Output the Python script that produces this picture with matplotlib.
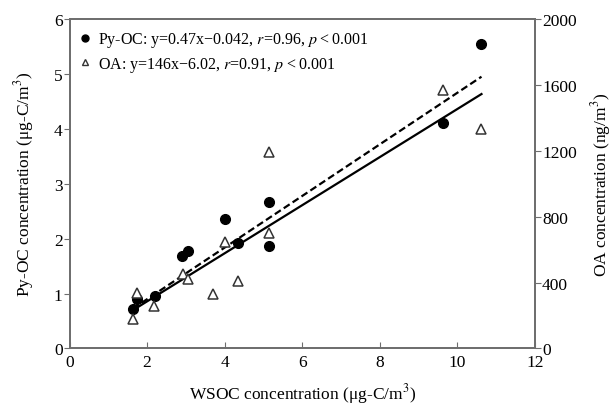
import numpy as np
import matplotlib
matplotlib.use("Agg")
import matplotlib.pyplot as plt
from matplotlib.lines import Line2D

plt.rcParams['font.family'] = ['Liberation Serif', 'DejaVu Serif']
plt.rcParams['mathtext.fontset'] = 'stix'

# WSOC (ug-C/m3) vs Py-OC (ug-C/m3)
wsoc_pyoc = [1.63, 1.73, 2.20, 2.89, 3.06, 4.00, 4.35, 5.14, 5.14, 9.62, 10.62]
pyoc = [0.71, 0.91, 0.96, 1.68, 1.77, 2.36, 1.92, 2.67, 1.86, 4.10, 5.55]

# WSOC (ug-C/m3) vs OA (ng/m3)
wsoc_oa = [1.63, 1.75, 2.19, 2.93, 3.06, 3.69, 4.00, 4.35, 5.14, 5.14, 9.62, 10.62]
oa = [180, 337, 256, 452, 422, 331, 648, 412, 1191, 699, 1570, 1333]

# regression lines (slope, intercept)
pyoc_fit = (0.47, -0.042)
oa_fit = (146, -6.02)

pyoc_label = "Py-OC: y=0.47x\u22120.042, $r$=0.96, $p$\u2009<\u20090.001"
oa_label = "OA: y=146x\u22126.02, $r$=0.91, $p$\u2009<\u20090.001"

fig = plt.figure(figsize=(6.13, 4.10), dpi=100)
ax = fig.add_axes([0.1134, 0.1476, 0.7594, 0.8036])
ax2 = ax.twinx()

spine_col = "#6e6e6e"

xs = np.array([min(wsoc_pyoc), max(wsoc_pyoc)])
ax.plot(xs, pyoc_fit[0] * xs + pyoc_fit[1], color="black", lw=1.6,
        linestyle=(0, (3.2, 1.6)))
ax.plot(wsoc_pyoc, pyoc, "o", color="black", markersize=7, zorder=5)

xs2 = np.array([min(wsoc_oa), max(wsoc_oa)])
ax2.plot(xs2, oa_fit[0] * xs2 + oa_fit[1], color="black", lw=1.6)
ax2.plot(wsoc_oa, oa, "^", markerfacecolor="white", markeredgecolor="#333333",
         markeredgewidth=1.1, markersize=6.5, zorder=5)

ax.set_xlim(0, 12)
ax.set_ylim(0, 6)
ax2.set_ylim(0, 2000)
ax.set_xticks(range(0, 13, 2))
ax.set_yticks(range(0, 7))
ax2.set_yticks(range(0, 2001, 400))

for a in (ax, ax2):
    for s in a.spines.values():
        s.set_color(spine_col)
        s.set_linewidth(1.3)

ax.tick_params(axis="x", direction="in", length=4, color=spine_col, labelsize=12.5, pad=4)
ax.tick_params(axis="y", direction="out", length=4, color=spine_col, labelsize=12.5, pad=1)
ax2.tick_params(axis="y", direction="out", length=4, color=spine_col, labelsize=12.5, pad=1)

ax.set_xlabel("WSOC concentration (\u03bcg-C/m$^3$)", fontsize=12.5, labelpad=8)
ax.set_ylabel("Py-OC concentration (\u03bcg-C/m$^3$)", fontsize=12.5, labelpad=13)
ax2.set_ylabel("OA concentration (ng/m$^3$)", fontsize=12.5, labelpad=9)

handles = [
    Line2D([], [], marker="o", linestyle="none", color="black", markersize=5),
    Line2D([], [], marker="^", linestyle="none", markerfacecolor="white",
           markeredgecolor="#333333", markeredgewidth=1.0, markersize=5),
]
ax2.legend(handles, [pyoc_label, oa_label], loc="upper left", frameon=False,
           fontsize=11.5, handlelength=0.6, handletextpad=0.5, labelspacing=0.35,
           borderaxespad=0.3, bbox_to_anchor=(0.0, 1.0))

fig.savefig("out.png", dpi=100)
